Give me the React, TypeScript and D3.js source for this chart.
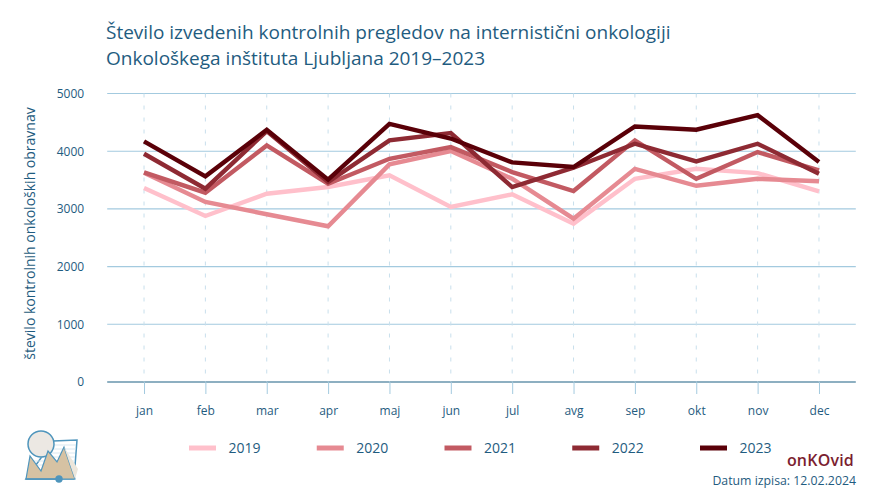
import { useEffect, useRef } from 'react'
import * as d3 from 'd3'

const MONTHS = ['jan', 'feb', 'mar', 'apr', 'maj', 'jun', 'jul', 'avg', 'sep', 'okt', 'nov', 'dec']
const Y_TICKS = [0, 1000, 2000, 3000, 4000, 5000]

const V2019 = [3362, 2877, 3263, 3379, 3581, 3033, 3253, 2745, 3522, 3695, 3621, 3304]
const V2020 = [3627, 3120, 2907, 2699, 3772, 4002, 3522, 2830, 3695, 3401, 3522, 3478]
const V2021 = [3633, 3281, 4100, 3437, 3869, 4071, 3638, 3310, 4187, 3522, 3985, 3668]
const V2022 = [3956, 3350, 4348, 3466, 4187, 4313, 3379, 3714, 4129, 3824, 4129, 3610]
const V2023 = [4170, 3564, 4370, 3507, 4475, 4220, 3806, 3725, 4429, 4372, 4625, 3811]

const YEARS = ['2019', '2020', '2021', '2022', '2023']
const SERIES = [V2019, V2020, V2021, V2022, V2023]
const COLORS = ['#FFC0CB', '#E68A92', '#C25A62', '#8E2A33', '#5A0008']

const TEXT = '#1F5C80'
const GRID = '#A3CADF'
const FONT = '"Open Sans", "Noto Sans", sans-serif'

export default function App() {
  const ref = useRef<SVGGElement>(null)

  useEffect(() => {
    const g = d3.select(ref.current)
    g.selectAll('*').remove()

    const x = d3.scalePoint<string>().domain(MONTHS).range([107.2, 855.8]).padding(0.6)
    const y = d3.scaleLinear().domain([0, 5000]).range([382, 93.5])

    // Y axis, its ticks double as the grid
    g.append('g')
      .attr('transform', 'translate(107.2,0)')
      .call(d3.axisLeft(y).tickValues(Y_TICKS).tickSize(0).tickPadding(23).tickFormat(d => String(d)))
      .call(ax => {
        ax.select('.domain').remove()
        ax.selectAll('text').attr('fill', TEXT).attr('font-size', '12px').attr('font-family', FONT)
      })
    g.append('g').selectAll('line').data(Y_TICKS).join('line')
      .attr('x1', 107.2).attr('x2', 855.8)
      .attr('y1', d => y(d)).attr('y2', d => y(d))
      .attr('stroke', d => d === 0 ? '#6794AC' : GRID)
      .attr('stroke-width', d => d === 0 ? 1.5 : 1.1)

    // Vertical dashed lines
    g.append('g').selectAll('line').data(MONTHS).join('line')
      .attr('x1', d => x(d)!).attr('x2', d => x(d)!)
      .attr('y1', 93.5).attr('y2', 382)
      .attr('stroke', '#C8DFEC').attr('stroke-width', 1)
      .attr('stroke-dasharray', '4 8')

    // X axis
    g.append('g')
      .attr('transform', 'translate(0,382)')
      .call(d3.axisBottom(x).tickSize(12).tickPadding(12))
      .call(ax => {
        ax.select('.domain').remove()
        ax.selectAll('.tick line').attr('stroke', GRID)
        ax.selectAll('text').attr('fill', TEXT).attr('font-size', '12px').attr('font-family', FONT)
      })

    const line = d3.line<number>()
      .x((_, i) => x(MONTHS[i])!)
      .y(d => y(d))

    SERIES.forEach((values, i) => {
      g.append('path')
        .attr('d', line(values))
        .attr('fill', 'none')
        .attr('stroke', COLORS[i])
        .attr('stroke-width', 4.4)
        .attr('stroke-linejoin', 'miter')
    })

    // Legend
    const legendX = d3.scalePoint<string>().domain(YEARS).range([189, 700])
    const item = g.append('g').selectAll('g').data(YEARS).join('g')
      .attr('transform', d => `translate(${legendX(d)},448)`)
    item.append('line')
      .attr('x2', 27)
      .attr('stroke', (_, i) => COLORS[i])
      .attr('stroke-width', 5)
    item.append('text')
      .attr('x', 39.5).attr('dy', '0.35em')
      .attr('fill', TEXT).attr('font-size', '14px').attr('font-family', FONT)
      .text(d => d)
  }, [])

  return (
    <svg width={885} height={496} style={{ position: 'absolute', left: 0, top: 0, background: '#fff' }}>
      <text x={106} y={39} fill={TEXT} fontSize={19} fontFamily={FONT}>Število izvedenih kontrolnih pregledov na internistični onkologiji</text>
      <text x={106} y={65} fill={TEXT} fontSize={19} fontFamily={FONT}>Onkološkega inštituta Ljubljana 2019–2023</text>
      <text transform="translate(35,233.5) rotate(-90)" textAnchor="middle" fill={TEXT} fontSize={14} fontFamily={FONT}>število kontrolnih onkoloških obravnav</text>
      <g ref={ref} />
      <text x={854} y={466} textAnchor="end" fill="#7B1E30" fontSize={16} fontWeight={600} fontFamily={FONT} letterSpacing={0.2}>onKOvid</text>
      <text x={856} y={485} textAnchor="end" fill={TEXT} fontSize={12.3} fontFamily={FONT}>Datum izpisa: 12.02.2024</text>
      {/* logo */}
      <g>
        <path d="M53 441 L77 440 L74 479 L26 479 Z" fill="#fff" stroke="#4F95BC" strokeWidth={1.5} />
        <path d="M54 445H76M54 449H76M40 453H75M40 457H75M32 461H75M32 465H75" stroke="#CFE2EE" strokeWidth={0.8} />
        <circle cx={41} cy={444} r={13} fill="#ECE8E3" stroke="#4F95BC" strokeWidth={1.5} />
        <path d="M26 479 L30 456 L41 471 L48 451 L57 462 L64 447 L75 479 Z" fill="#D6C2A3" stroke="#4F95BC" strokeWidth={1.2} />
        <path d="M64 447 L78 469 L75 479 Z" fill="#ECE6DB" />
        <path d="M26 479 L59 479" stroke="#4F95BC" strokeWidth={1.5} />
        <circle cx={59} cy={479} r={3.7} fill="#4F95BC" />
      </g>
    </svg>
  )
}
